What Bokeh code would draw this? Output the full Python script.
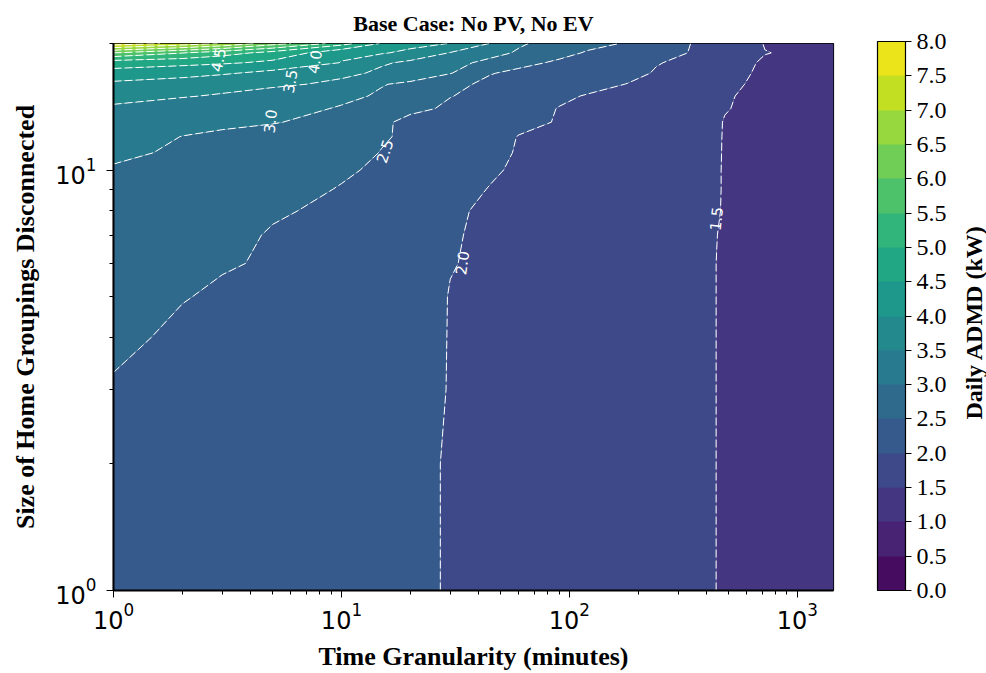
import numpy as np
from bokeh.plotting import figure
from bokeh.layouts import row
from bokeh.models import (ColorBar, LinearColorMapper, FixedTicker, PrintfTickFormatter,
                          LogTickFormatter, ColumnDataSource, Range1d)
from bokeh.palettes import Viridis256
from bokeh.core.properties import value
from bokeh.embed import file_html
from bokeh.resources import INLINE

# averaging window (minutes) and number of homes per disconnected group
granularity_min = [1, 2, 3, 5, 10, 15, 20, 30, 45, 60, 90, 120, 180, 240, 360, 480, 720, 1440]
group_size = [1, 2, 3, 4, 5, 6, 7, 8, 9, 10, 11, 12, 13, 14, 15, 16, 17, 18, 19, 20]

# daily ADMD (kW), one row per group size, one column per granularity
admd_g01 = [2.32, 2.28, 2.25, 2.21, 2.14, 2.09, 2.05, 1.98, 1.92, 1.87, 1.80, 1.75, 1.68, 1.63, 1.54, 1.48, 1.40, 1.22]
admd_g02 = [2.38, 2.33, 2.29, 2.24, 2.16, 2.10, 2.05, 1.98, 1.93, 1.88, 1.81, 1.76, 1.69, 1.64, 1.54, 1.48, 1.41, 1.23]
admd_g03 = [2.47, 2.40, 2.35, 2.29, 2.20, 2.13, 2.07, 1.99, 1.93, 1.88, 1.81, 1.76, 1.69, 1.64, 1.54, 1.48, 1.41, 1.23]
admd_g04 = [2.57, 2.42, 2.37, 2.31, 2.22, 2.15, 2.09, 1.99, 1.93, 1.88, 1.81, 1.76, 1.69, 1.64, 1.54, 1.48, 1.41, 1.24]
admd_g05 = [2.65, 2.52, 2.43, 2.35, 2.25, 2.17, 2.11, 1.99, 1.94, 1.89, 1.82, 1.77, 1.70, 1.65, 1.54, 1.48, 1.41, 1.24]
admd_g06 = [2.72, 2.60, 2.54, 2.44, 2.30, 2.20, 2.13, 2.01, 1.95, 1.90, 1.83, 1.78, 1.71, 1.66, 1.54, 1.48, 1.41, 1.25]
admd_g07 = [2.79, 2.66, 2.58, 2.47, 2.33, 2.23, 2.15, 2.02, 1.95, 1.90, 1.83, 1.78, 1.71, 1.66, 1.55, 1.48, 1.41, 1.25]
admd_g08 = [2.85, 2.72, 2.64, 2.54, 2.40, 2.29, 2.20, 2.03, 1.96, 1.91, 1.84, 1.79, 1.72, 1.66, 1.55, 1.49, 1.42, 1.26]
admd_g09 = [2.91, 2.78, 2.70, 2.60, 2.48, 2.35, 2.26, 2.07, 1.99, 1.93, 1.86, 1.81, 1.73, 1.67, 1.56, 1.49, 1.42, 1.26]
admd_g10 = [2.96, 2.84, 2.76, 2.66, 2.55, 2.43, 2.33, 2.12, 2.03, 1.96, 1.88, 1.82, 1.74, 1.68, 1.56, 1.49, 1.42, 1.27]
admd_g11 = [3.08, 2.92, 2.84, 2.73, 2.60, 2.49, 2.40, 2.18, 2.06, 1.98, 1.90, 1.84, 1.76, 1.69, 1.57, 1.49, 1.42, 1.27]
admd_g12 = [3.20, 2.99, 2.90, 2.79, 2.65, 2.53, 2.44, 2.25, 2.09, 1.99, 1.91, 1.85, 1.77, 1.70, 1.58, 1.49, 1.42, 1.28]
admd_g13 = [3.32, 3.18, 3.11, 3.03, 2.75, 2.56, 2.40, 2.28, 2.15, 2.07, 1.98, 1.90, 1.80, 1.73, 1.60, 1.49, 1.42, 1.28]
admd_g14 = [3.44, 3.30, 3.22, 3.10, 2.97, 2.75, 2.58, 2.44, 2.25, 2.10, 1.99, 1.92, 1.82, 1.75, 1.61, 1.51, 1.43, 1.29]
admd_g15 = [3.62, 3.53, 3.45, 3.30, 3.08, 2.95, 2.80, 2.51, 2.38, 2.22, 2.05, 1.98, 1.85, 1.77, 1.63, 1.52, 1.43, 1.30]
admd_g16 = [3.88, 3.75, 3.68, 3.58, 3.38, 3.02, 2.92, 2.60, 2.40, 2.30, 2.18, 2.10, 1.99, 1.90, 1.68, 1.54, 1.45, 1.31]
admd_g17 = [4.34, 4.18, 4.05, 3.85, 3.62, 3.40, 3.25, 3.02, 2.52, 2.40, 2.30, 2.22, 2.10, 1.97, 1.76, 1.58, 1.45, 1.32]
admd_g18 = [4.70, 4.63, 4.56, 4.40, 3.98, 3.56, 3.40, 3.10, 2.90, 2.62, 2.42, 2.33, 2.18, 2.02, 1.88, 1.62, 1.46, 1.33]
admd_g19 = [6.00, 5.52, 5.20, 4.80, 4.10, 4.05, 3.85, 3.48, 3.12, 2.95, 2.65, 2.45, 2.25, 2.12, 1.96, 1.72, 1.51, 1.36]
admd_g20 = [7.80, 7.30, 6.95, 6.20, 5.20, 4.45, 4.20, 3.98, 3.48, 3.05, 2.80, 2.65, 2.45, 2.20, 1.96, 1.80, 1.48, 1.38]

# contour levels and colour-bar ticks (kW)
levels = [0.0, 0.5, 1.0, 1.5, 2.0, 2.5, 3.0, 3.5, 4.0, 4.5, 5.0, 5.5, 6.0, 6.5, 7.0, 7.5, 8.0]

# log-axis ticks
y_major_ticks = [1, 10]
y_minor_ticks = [2, 3, 4, 5, 6, 7, 8, 9, 20]

# inline contour labels
clabel_text = ["1.5", "2.0", "2.5", "3.0", "3.5", "4.0", "4.5"]
clabel_x = [438.0, 33.7, 15.4, 4.85, 5.93, 7.6, 2.87]
clabel_y = [7.66, 6.02, 11.09, 13.07, 16.26, 18.1, 18.3]
clabel_angle_deg = [84, 82, 72, 84, 80, 80, 78]

Z = np.array([admd_g01, admd_g02, admd_g03, admd_g04, admd_g05, admd_g06, admd_g07,
              admd_g08, admd_g09, admd_g10, admd_g11, admd_g12, admd_g13, admd_g14,
              admd_g15, admd_g16, admd_g17, admd_g18, admd_g19, admd_g20])

# one viridis colour per band, sampled at the band mid-point
n_bands = len(levels) - 1
band_colors = [Viridis256[int(256 * (i + 0.5) / n_bands)] for i in range(n_bands)]

SERIF = "Liberation Serif"

p = figure(width=950, height=673, x_axis_type="log", y_axis_type="log",
           x_range=Range1d(1, 1440), y_range=Range1d(1, 20),
           output_backend="svg", toolbar_location=None,
           min_border_left=113, min_border_right=117, min_border_top=42, min_border_bottom=82,
           title="Base Case: No PV, No EV")
p.background_fill_color = "white"
p.border_fill_color = "white"
p.outline_line_color = "black"
p.outline_line_width = 1.2
p.grid.visible = False

p.title.text_font = SERIF
p.title.text_font_style = "bold"
p.title.text_font_size = "22px"
p.title.text_color = "black"
p.title.align = "center"
p.title.standoff = 16

p.contour(x=np.array(granularity_min, dtype=float), y=np.array(group_size, dtype=float), z=Z,
          levels=levels, fill_color=band_colors,
          line_color="white", line_width=1.0, line_dash="8 3")

src = ColumnDataSource(dict(x=clabel_x, y=clabel_y, t=clabel_text,
                            a=[np.deg2rad(v) for v in clabel_angle_deg]))
p.text(x="x", y="y", text="t", angle="a", source=src, text_color="white",
       text_font=value("DejaVu Sans"), text_font_size="15px",
       text_align="center", text_baseline="middle")

p.yaxis.ticker = FixedTicker(ticks=y_major_ticks, minor_ticks=y_minor_ticks)
p.yaxis.formatter = LogTickFormatter()

for ax in (p.xaxis[0], p.yaxis[0]):
    ax.axis_line_color = "black"
    ax.axis_line_width = 2
    ax.major_tick_line_color = "black"
    ax.minor_tick_line_color = "black"
    ax.major_tick_out = 7
    ax.major_tick_in = 0
    ax.minor_tick_out = 4
    ax.minor_tick_in = 0
    ax.major_label_text_font = "DejaVu Sans"
    ax.major_label_text_font_size = "24px"
    ax.major_label_text_color = "black"
    ax.axis_label_text_font = SERIF
    ax.axis_label_text_font_style = "bold"
    ax.axis_label_text_font_size = "26px"
    ax.axis_label_text_color = "black"

p.xaxis.axis_label = "Time Granularity (minutes)"
p.yaxis.axis_label = "Size of Home Groupings Disconnected"
p.xaxis.major_label_standoff = 4
p.yaxis.major_label_standoff = 10
p.xaxis.axis_label_standoff = 10
p.yaxis.axis_label_standoff = 12

mapper = LinearColorMapper(palette=band_colors, low=levels[0], high=levels[-1])
cb = ColorBar(color_mapper=mapper, ticker=FixedTicker(ticks=levels),
              formatter=PrintfTickFormatter(format="%.1f"),
              width=28, height=549, margin=0, padding=0, location=(44, 0),
              bar_line_color="black", bar_line_width=1.2,
              major_tick_out=6, major_tick_in=0, major_tick_line_color="black",
              minor_tick_line_color=None,
              major_label_text_font=SERIF, major_label_text_font_size="24px",
              major_label_text_color="black", label_standoff=5,
              background_fill_alpha=0, border_line_color=None)
p.add_layout(cb, "right")

# narrow strip holding the rotated colour-bar title
cb_title = figure(width=36, height=673, x_range=Range1d(0, 36), y_range=Range1d(0, 673),
                  output_backend="svg", toolbar_location=None,
                  min_border=0, min_border_left=0, min_border_right=0,
                  min_border_top=0, min_border_bottom=0)
cb_title.axis.visible = False
cb_title.grid.visible = False
cb_title.outline_line_color = None
cb_title.background_fill_color = "white"
cb_title.border_fill_color = "white"
cb_title.text(x=[23], y=[330], text=["Daily ADMD (kW)"], angle=np.pi / 2,
              text_align="center", text_baseline="middle",
              text_font=value(SERIF), text_font_style="bold",
              text_font_size="24px", text_color="black")

layout = row(p, cb_title, spacing=0)
open("out.html", "w").write(file_html(layout, INLINE))
